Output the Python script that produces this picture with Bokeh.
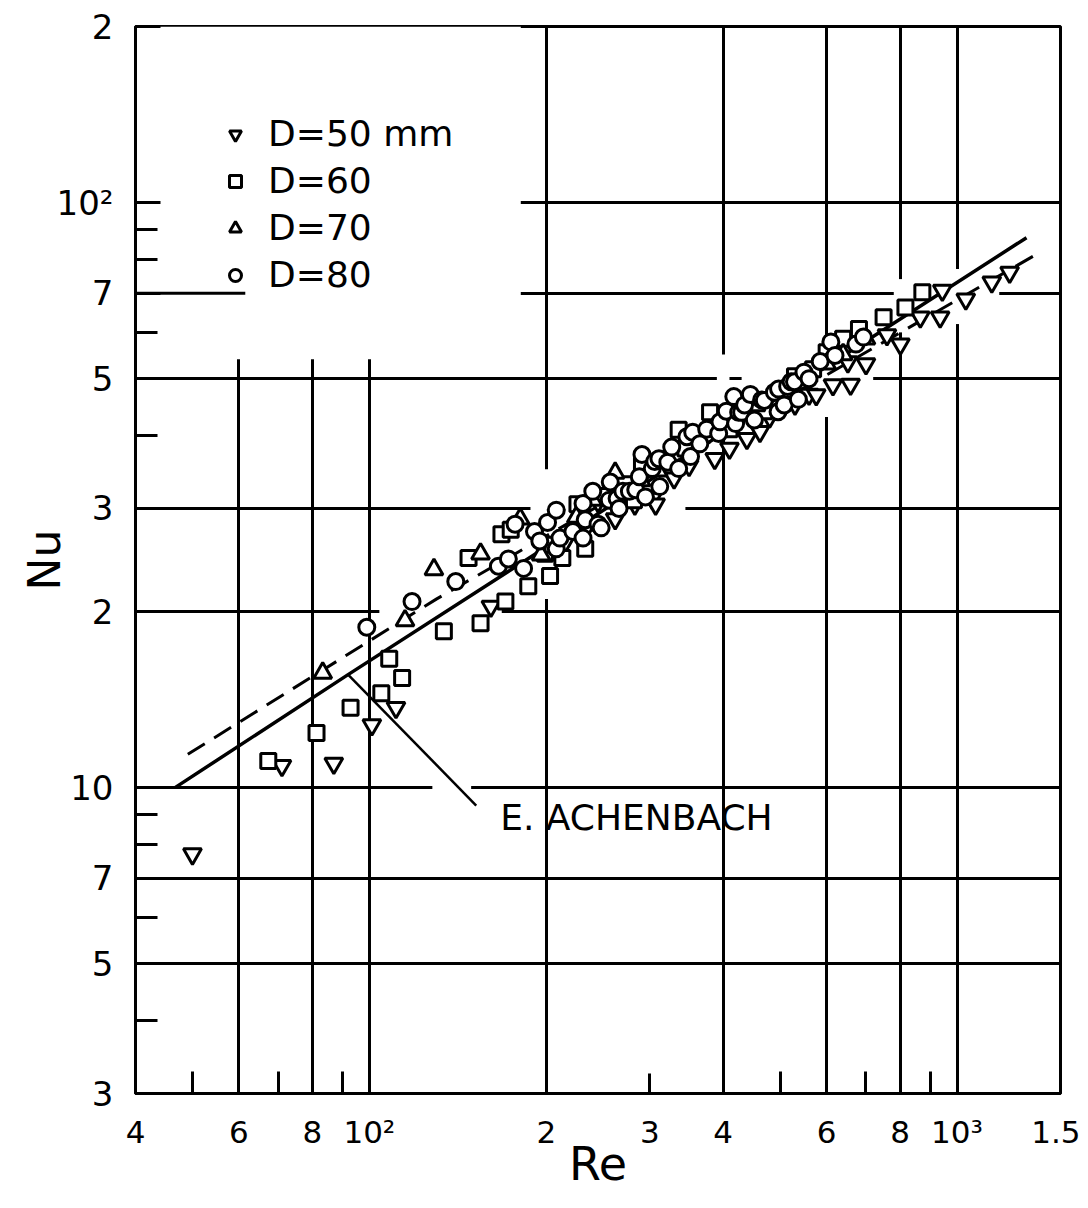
from bokeh.plotting import figure
from bokeh.models import Range1d, FixedTicker, BoxAnnotation, Legend, LegendItem
from bokeh.embed import file_html
from bokeh.resources import INLINE
from bokeh.core.properties import value

FONT = "DejaVu Sans"

# ---- axes / ticks ----
x_ticks = [40, 60, 80, 100, 200, 300, 400, 600, 800, 1000, 1500]
x_tick_labels = ["4", "6", "8", "10²", "2", "3", "4", "6", "8", "10³", "1.5"]
x_minor = [50, 70, 90, 500, 700, 900]
y_ticks = [3, 5, 7, 10, 20, 30, 50, 70, 100, 200]
y_tick_labels = ["3", "5", "7", "10", "2", "3", "5", "7", "10²", "2"]
y_minor = [4, 6, 8, 9, 40, 60, 80, 90]
x_grid_vals = [60, 80, 100, 200, 400, 600, 800, 1000]
y_grid_vals = [5, 7, 10, 20, 30, 50, 70, 100]

# breaks in the drawn grid lines of the original chart
h_gap_nu = [20, 10, 30, 50, 70]
h_gap_re0 = [104, 128, 188, 430, 810]
h_gap_re1 = [168, 149, 345, 720, 1180]
v_gap_re = [200, 400, 600, 800, 1000]
v_gap_nu0 = [21, 41, 43, 60, 62]
v_gap_nu1 = [35, 55, 58, 74, 77]

# ---- data: D = 50 mm (inverted triangles) ----
re50 = [50, 71, 87, 101, 111, 161, 215, 235, 245, 262, 283, 303, 307, 330, 350, 387, 410, 439,
        462, 480, 530, 560, 576, 615, 652, 659, 700, 760, 801, 866, 936, 944, 1035, 1146, 1229]
nu50 = [7.7, 10.9, 11.0, 12.8, 13.7, 20.4, 26.2, 28.0, 30.8, 28.8, 30.5, 31.2, 30.5, 33.8, 35.5, 36.5, 38.0, 39.5,
        40.6, 43.0, 45.2, 47.0, 46.9, 48.8, 53.4, 48.9, 53.0, 59.4, 57.3, 63.7, 63.7, 70.8, 68.4, 73.1, 76.0]

# ---- D = 60 mm (squares) ----
re60 = [67.3, 81.3, 92.9, 104.8, 108.1, 113.7, 133.9, 147.5, 154.6, 167.8, 170.4, 174, 186.4,
        199, 203, 205, 213, 226, 233, 250, 272, 282, 291, 336, 345, 380, 410, 440, 470, 530, 569,
        600, 640, 681, 750, 817, 873]
nu60 = [11.1, 12.4, 13.7, 14.5, 16.6, 15.4, 18.5, 24.7, 19.1, 27.1, 20.8, 27.6, 22.1,
        25.1, 23.0, 26.0, 24.7, 30.5, 25.6, 31.5, 33.0, 31.0, 35.5, 40.9, 38.0, 43.8, 41.0, 44.5, 44.0, 50.5, 51.9,
        55.5, 58.5, 60.8, 63.7, 66.2, 70.3]

# ---- D = 70 mm (triangles) ----
re70 = [83.3, 115, 128.8, 154.6, 180.6, 196, 225, 240, 262, 290, 310, 360, 420, 455, 520, 600, 640, 700]
nu70 = [15.7, 19.3, 23.6, 25.1, 28.8, 25.0, 29.0, 31.0, 34.5, 33.5, 34.8, 39.5, 43.0, 45.0, 47.5, 53.0, 55.0, 58.5]

# ---- D = 80 mm (circles) ----
re80 = [99, 118.2, 140.3, 165.8, 172.4, 177, 183, 191, 195, 201, 208, 208, 211, 222, 231, 231, 233,
        240, 245, 248, 256, 257, 264, 266, 270, 277, 284, 288, 291, 295, 303, 306, 311, 312, 322, 327,
        336, 347, 352, 355, 365, 375, 393, 395, 405, 417, 420, 425, 430, 435, 445, 452, 465, 470,
        489, 496, 497, 508, 515, 522, 529, 537, 549, 560, 585, 610, 620, 673, 693]
nu80 = [18.8, 20.8, 22.5, 23.9, 24.6, 28.2, 23.7, 27.4, 26.4, 28.4, 29.8, 25.6, 26.7, 27.4, 30.6, 26.7, 28.7,
        32.1, 28.2, 27.8, 31.0, 33.3, 31.2, 30.0, 32.1, 32.1, 32.3, 34.0, 37.1, 31.4, 35.1, 36.1, 36.5, 32.7, 36.0, 38.2,
        35.1, 39.8, 36.8, 40.5, 38.7, 41.0, 40.3, 42.2, 44.0, 46.6, 41.9, 43.8, 43.8, 45.1, 47.0, 42.5, 46.0, 45.9,
        47.4, 43.9, 48.0, 45.1, 48.5, 49.4, 49.4, 46.1, 51.3, 50.0, 53.5, 57.8, 54.8, 57.3, 58.9]

# ---- correlation lines ----
ach_re = [46.7, 92, 1313]          # E. Achenbach (solid)
ach_nu = [10.0, 15.6, 87.1]
fit_re = [49.1, 130, 1392]         # dashed line
fit_nu = [11.4, 21.0, 82.5]
pointer_re = [92, 152]
pointer_nu = [15.6, 9.32]
label_re = [167]
label_nu = [8.89]
label_text = ["E. ACHENBACH"]

legend_labels = ["D=50 mm", "D=60", "D=70", "D=80"]

p = figure(
    x_axis_type="log", y_axis_type="log",
    x_range=Range1d(40, 1500), y_range=Range1d(3, 200),
    frame_width=925, frame_height=1067,
    min_border_left=135, min_border_right=20, min_border_top=26, min_border_bottom=90,
    output_backend="svg", toolbar_location=None,
    background_fill_color="white", border_fill_color="white",
)
p.outline_line_color = "black"
p.outline_line_width = 3

# grids
p.xgrid.ticker = FixedTicker(ticks=x_grid_vals)
p.ygrid.ticker = FixedTicker(ticks=y_grid_vals)
for g in (p.xgrid, p.ygrid):
    g.grid_line_color = "black"
    g.grid_line_width = 3
    g.minor_grid_line_color = None

# blank legend region (upper-left) where the grid is not drawn
p.add_layout(BoxAnnotation(left=40, right=181, bottom=54, top=200, level="underlay",
                           fill_color="white", fill_alpha=1.0, line_alpha=0))
# breaks in individual grid lines
for yv, a, b in zip(h_gap_nu, h_gap_re0, h_gap_re1):
    p.add_layout(BoxAnnotation(left=a, right=b, bottom=yv / 1.025, top=yv * 1.025, level="underlay",
                               fill_color="white", fill_alpha=1.0, line_alpha=0))
for xv, a, b in zip(v_gap_re, v_gap_nu0, v_gap_nu1):
    p.add_layout(BoxAnnotation(left=xv / 1.025, right=xv * 1.025, bottom=a, top=b, level="underlay",
                               fill_color="white", fill_alpha=1.0, line_alpha=0))
p.segment(x0=[40], y0=[70], x1=[61.5], y1=[70], line_color="black", line_width=3)

# axes
p.xaxis.ticker = FixedTicker(ticks=x_ticks, minor_ticks=x_minor)
p.xaxis.major_label_overrides = {t: l for t, l in zip(x_ticks, x_tick_labels)}
p.yaxis.ticker = FixedTicker(ticks=y_ticks, minor_ticks=y_minor)
p.yaxis.major_label_overrides = {t: l for t, l in zip(y_ticks, y_tick_labels)}

for ax in (p.xaxis, p.yaxis):
    ax.axis_line_width = 3
    ax.axis_line_color = "black"
    ax.major_tick_line_width = 3
    ax.minor_tick_line_width = 3
    ax.major_tick_line_color = "black"
    ax.minor_tick_line_color = "black"
    ax.major_tick_out = 0
    ax.minor_tick_out = 0
    ax.major_label_text_font = FONT
    ax.major_label_text_color = "black"
    ax.axis_label_text_font = FONT
    ax.axis_label_text_font_style = "normal"
    ax.axis_label_text_color = "black"

p.xaxis.major_tick_in = 20
p.xaxis.minor_tick_in = 22
p.xaxis.major_label_text_font_size = "31px"
p.xaxis.major_label_standoff = 20
p.xaxis.axis_label = "Re"
p.xaxis.axis_label_text_font_size = "46px"
p.xaxis.axis_label_standoff = -16

p.yaxis.major_tick_in = 25
p.yaxis.minor_tick_in = 22
p.yaxis.major_label_text_font_size = "34px"
p.yaxis.major_label_standoff = 22
p.yaxis.axis_label = "Nu"
p.yaxis.axis_label_text_font_size = "44px"
p.yaxis.axis_label_standoff = -16

# lines
p.line(ach_re, ach_nu, line_color="black", line_width=3.5)
p.line(fit_re, fit_nu, line_color="black", line_width=3, line_dash="20 11")
p.line(pointer_re, pointer_nu, line_color="black", line_width=2.5)
p.text(x=label_re, y=label_nu, text=label_text, text_baseline="middle", text_align="left",
       text_font=value(FONT), text_font_size="36px", text_color="black")

# markers
mk = dict(fill_color="white", line_color="black", line_width=3)
r50 = p.scatter(re50, nu50, marker="inverted_triangle", size=18, **mk)
r60 = p.scatter(re60, nu60, marker="square", size=15, **mk)
r70 = p.scatter(re70, nu70, marker="triangle", size=18, **mk)
r80 = p.scatter(re80, nu80, marker="circle", size=16, **mk)

legend = Legend(
    items=[LegendItem(label=l, renderers=[r]) for l, r in zip(legend_labels, [r50, r60, r70, r80])],
    location=(85, 798),
    orientation="vertical",
    glyph_width=30, glyph_height=30, label_height=30,
    label_standoff=18, spacing=6, padding=0, margin=0,
    label_text_font=FONT, label_text_font_size="36px", label_text_color="black",
    background_fill_alpha=0, border_line_alpha=0,
)
p.add_layout(legend)

open("out.html", "w").write(file_html(p, INLINE))
